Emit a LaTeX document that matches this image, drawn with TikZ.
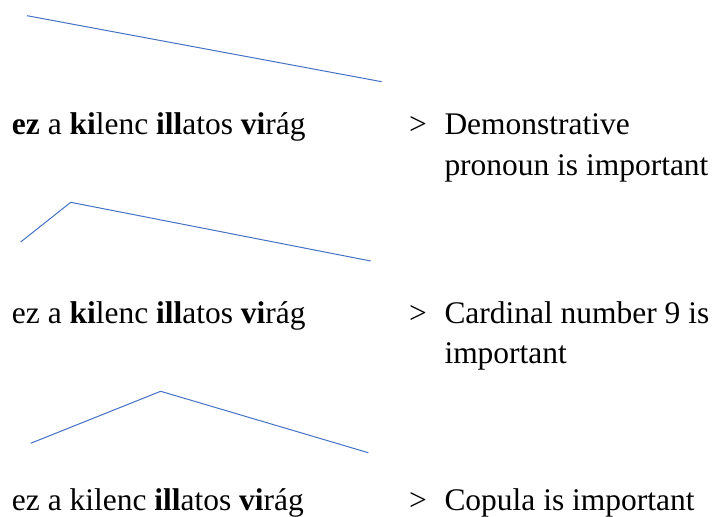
\documentclass[tikz,border=0pt]{standalone}
\usepackage{fontspec}
\setmainfont{Liberation Serif}
\usepackage{tikz}
\definecolor{contourblue}{RGB}{68, 114, 196}
\newcommand{\glosslines}[1]{\begin{tabular}[t]{@{}l@{}}#1\end{tabular}}

\begin{document}
\begin{tikzpicture}[
    x=0.75pt, y=-0.75pt,
    every node/.style={inner sep=0pt, outer sep=0pt, anchor=base west, font=\fontsize{23.6}{30.2}\selectfont},
    phrase/.style={},
    gt/.style={},
    gloss/.style={},
    contour/.style={draw=contourblue, line width=0.75pt, line join=miter}
]
\useasboundingbox (0,0) rectangle (715,517);

% Contour points
\coordinate (c1a) at (27,15.7);
\coordinate (c1b) at (381.7,81.7);
\coordinate (c2a) at (20.7,242);
\coordinate (c2b) at (70.7,202.3);
\coordinate (c2c) at (370.7,261);
\coordinate (c3a) at (30.7,443.3);
\coordinate (c3b) at (160.7,391.3);
\coordinate (c3c) at (368.3,452.7);

% Row 1
\node[phrase] (ph1) at (12,135) {\textbf{ez} a \textbf{ki}lenc \textbf{ill}atos \textbf{vi}rág};
\node[gt] (gt1) at (409,135) {>};
\node[gloss] (gl1) at (444.5,135) {\glosslines{Demonstrative\\pronoun is important}};

% Row 2
\node[phrase] (ph2) at (12,323) {ez a \textbf{ki}lenc \textbf{ill}atos \textbf{vi}rág};
\node[gt] (gt2) at (409,323) {>};
\node[gloss] (gl2) at (444.5,323) {\glosslines{Cardinal number 9 is\\important}};

% Row 3
\node[phrase] (ph3) at (12,510) {ez a kilenc \textbf{ill}atos \textbf{vi}rág};
\node[gt] (gt3) at (409,510) {>};
\node[gloss] (gl3) at (444.5,510) {Copula is important};

% Contours
\draw[contour] (c1a) -- (c1b);
\draw[contour] (c2a) -- (c2b) -- (c2c);
\draw[contour] (c3a) -- (c3b) -- (c3c);

\end{tikzpicture}
\end{document}
